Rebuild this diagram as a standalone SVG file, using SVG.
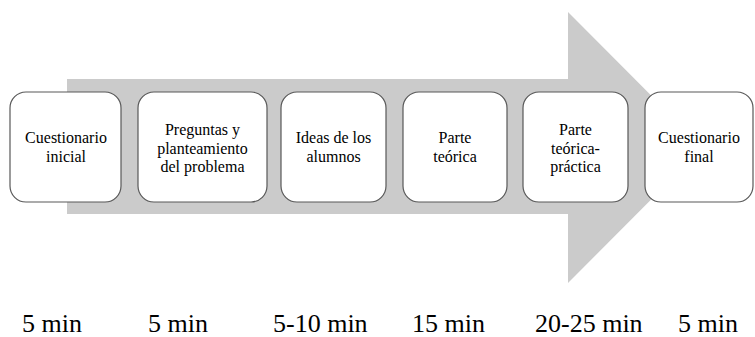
<svg xmlns="http://www.w3.org/2000/svg" width="755" height="337" viewBox="0 0 755 337">
<style>
.box{fill:#ffffff;stroke:#595959;stroke-width:1.2}
.t{font-size:16px;fill:#000;text-anchor:middle}
.d{font-size:26px;fill:#000}
</style>
<rect width="755" height="337" fill="#ffffff"/>
<g id="arrow">
<polygon points="67,79 568,79 568,12 703,147.5 568,283 568,214 67,214" fill="#cbcbcb"/>
</g>
<g id="connectors"></g>
<g font-family="Times New Roman, Liberation Serif, DejaVu Serif, serif">
<g id="n1"><rect class="box" x="10" y="92" width="111" height="110" rx="16"/>
<text class="t" x="66" y="143">Cuestionario</text><text class="t" x="66" y="161.5">inicial</text></g>
<g id="n2"><rect class="box" x="138" y="92" width="129" height="110" rx="16"/>
<text class="t" x="202.5" y="135">Preguntas y</text><text class="t" x="202.5" y="153.5">planteamiento</text><text class="t" x="202.5" y="172">del problema</text></g>
<g id="n3"><rect class="box" x="281" y="92" width="105" height="110" rx="16"/>
<text class="t" x="333.5" y="143">Ideas de los</text><text class="t" x="333.5" y="161.5">alumnos</text></g>
<g id="n4"><rect class="box" x="403" y="92" width="104" height="110" rx="16"/>
<text class="t" x="455" y="143">Parte</text><text class="t" x="455" y="161.5">teórica</text></g>
<g id="n5"><rect class="box" x="523" y="92" width="105" height="110" rx="16"/>
<text class="t" x="575.5" y="135">Parte</text><text class="t" x="575.5" y="153.5">teórica-</text><text class="t" x="575.5" y="172">práctica</text></g>
<g id="n6"><rect class="box" x="645" y="92" width="108" height="110" rx="16"/>
<text class="t" x="699" y="143">Cuestionario</text><text class="t" x="699" y="161.5">final</text></g>
<g id="durations">
<text class="d" x="22" y="332">5 min</text>
<text class="d" x="148" y="332">5 min</text>
<text class="d" x="273" y="332">5-10 min</text>
<text class="d" x="412" y="332">15 min</text>
<text class="d" x="535" y="332">20-25 min</text>
<text class="d" x="678" y="332">5 min</text>
</g>
</g>
</svg>
